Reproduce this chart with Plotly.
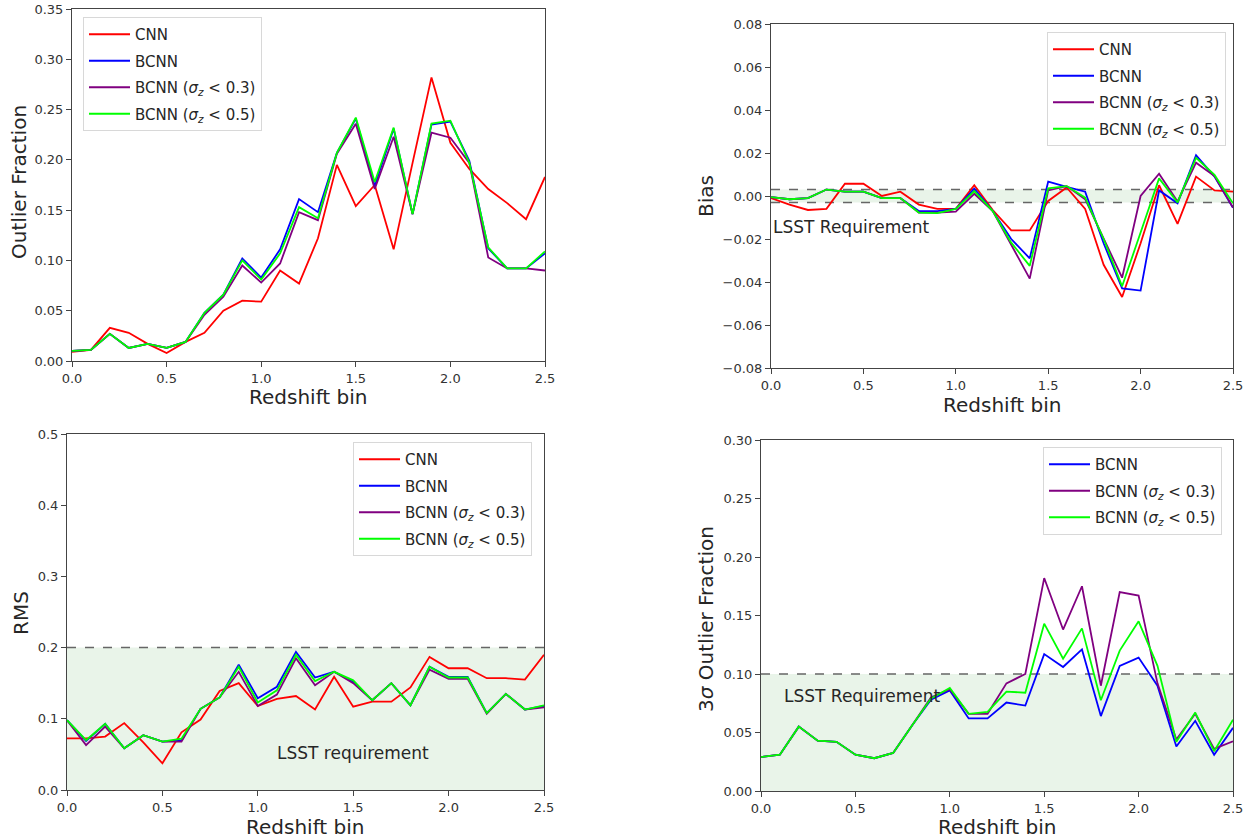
import plotly.graph_objects as go

W, H = 1251, 840

redshift = [0.0, 0.1, 0.2, 0.3, 0.4, 0.5, 0.6, 0.7, 0.8, 0.9, 1.0, 1.1, 1.2,
            1.3, 1.4, 1.5, 1.6, 1.7, 1.8, 1.9, 2.0, 2.1, 2.2, 2.3, 2.4, 2.5]

# Panel 1: Outlier fraction
of_cnn = [0.009, 0.011, 0.033, 0.028, 0.017, 0.008, 0.019, 0.028, 0.050, 0.060, 0.059, 0.090, 0.077,
          0.122, 0.195, 0.154, 0.175, 0.111, 0.197, 0.282, 0.217, 0.191, 0.171, 0.157, 0.141, 0.183]
of_bcnn = [0.010, 0.011, 0.027, 0.013, 0.017, 0.013, 0.019, 0.048, 0.066, 0.102, 0.083, 0.111, 0.161,
           0.148, 0.207, 0.241, 0.174, 0.231, 0.146, 0.235, 0.238, 0.199, 0.112, 0.092, 0.092, 0.107]
of_s03 = [0.010, 0.011, 0.027, 0.013, 0.017, 0.013, 0.019, 0.046, 0.064, 0.095, 0.078, 0.097, 0.148,
          0.140, 0.206, 0.236, 0.171, 0.223, 0.146, 0.227, 0.222, 0.197, 0.103, 0.092, 0.092, 0.090]
of_s05 = [0.010, 0.011, 0.027, 0.013, 0.017, 0.013, 0.019, 0.048, 0.066, 0.100, 0.081, 0.107, 0.153,
          0.142, 0.207, 0.242, 0.178, 0.232, 0.146, 0.236, 0.239, 0.197, 0.113, 0.092, 0.092, 0.109]

# Panel 2: Bias
b_cnn = [-0.001, -0.004, -0.0065, -0.006, 0.0057, 0.0057, 0.000, 0.002, -0.004, -0.006, -0.006, 0.005, -0.0065,
         -0.016, -0.016, -0.0023, 0.004, -0.006, -0.032, -0.047, -0.022, 0.005, -0.013, 0.009, 0.0026, 0.002]
b_bcnn = [-0.0005, -0.0015, -0.001, 0.003, 0.002, 0.002, -0.001, -0.001, -0.007, -0.007, -0.006, 0.0034, -0.007,
          -0.020, -0.029, 0.0067, 0.0043, 0.002, -0.022, -0.043, -0.044, 0.0026, -0.0034, 0.019, 0.009, -0.0055]
b_s03 = [-0.0005, -0.0015, -0.001, 0.003, 0.002, 0.002, -0.001, -0.001, -0.0077, -0.0077, -0.0073, 0.001, -0.007,
         -0.0225, -0.0384, 0.0026, 0.0046, -0.0015, -0.020, -0.038, 0.000, 0.0104, -0.0026, 0.0155, 0.0093, -0.0054]
b_s05 = [-0.0005, -0.0015, -0.001, 0.003, 0.002, 0.002, -0.001, -0.001, -0.0077, -0.008, -0.006, 0.0023, -0.007,
         -0.0217, -0.0325, 0.0036, 0.0046, -0.0008, -0.020, -0.042, -0.017, 0.0082, -0.003, 0.0178, 0.0098, -0.0034]

# Panel 3: RMS
r_cnn = [0.0726, 0.0726, 0.075, 0.094, 0.067, 0.0375, 0.081, 0.099, 0.139, 0.150, 0.118, 0.128, 0.132,
         0.113, 0.159, 0.117, 0.124, 0.124, 0.144, 0.187, 0.171, 0.171, 0.157, 0.157, 0.155, 0.190]
r_bcnn = [0.098, 0.069, 0.093, 0.0585, 0.077, 0.068, 0.070, 0.114, 0.130, 0.176, 0.129, 0.145, 0.194,
          0.158, 0.166, 0.152, 0.126, 0.150, 0.119, 0.173, 0.159, 0.159, 0.108, 0.135, 0.113, 0.118]
r_s03 = [0.098, 0.063, 0.089, 0.0585, 0.077, 0.068, 0.068, 0.114, 0.130, 0.166, 0.118, 0.134, 0.185,
         0.147, 0.166, 0.150, 0.126, 0.150, 0.119, 0.169, 0.156, 0.156, 0.107, 0.135, 0.113, 0.116]
r_s05 = [0.098, 0.070, 0.093, 0.0585, 0.077, 0.068, 0.072, 0.114, 0.130, 0.173, 0.123, 0.140, 0.190,
         0.153, 0.166, 0.154, 0.126, 0.150, 0.119, 0.173, 0.158, 0.158, 0.108, 0.135, 0.113, 0.119]

# Panel 4: 3-sigma outlier fraction
s_bcnn = [0.029, 0.031, 0.055, 0.043, 0.042, 0.031, 0.028, 0.0325, 0.056, 0.078, 0.086, 0.062, 0.062,
          0.0756, 0.073, 0.117, 0.106, 0.121, 0.064, 0.107, 0.114, 0.090, 0.038, 0.060, 0.031, 0.054]
s_s03 = [0.029, 0.031, 0.055, 0.043, 0.042, 0.031, 0.028, 0.0325, 0.056, 0.080, 0.087, 0.066, 0.066,
         0.092, 0.100, 0.182, 0.138, 0.175, 0.090, 0.170, 0.167, 0.092, 0.044, 0.066, 0.036, 0.0425]
s_s05 = [0.029, 0.031, 0.055, 0.043, 0.042, 0.031, 0.028, 0.0325, 0.056, 0.079, 0.088, 0.066, 0.0676,
         0.085, 0.084, 0.143, 0.113, 0.139, 0.0776, 0.120, 0.145, 0.107, 0.042, 0.067, 0.034, 0.061]

x_ticks = [0.0, 0.5, 1.0, 1.5, 2.0, 2.5]
x_ticktext = ["0.0", "0.5", "1.0", "1.5", "2.0", "2.5"]
y1_ticks = [0.0, 0.05, 0.10, 0.15, 0.20, 0.25, 0.30, 0.35]
y1_ticktext = ["0.00", "0.05", "0.10", "0.15", "0.20", "0.25", "0.30", "0.35"]
y2_ticks = [-0.08, -0.06, -0.04, -0.02, 0.0, 0.02, 0.04, 0.06, 0.08]
y2_ticktext = ["\u22120.08", "\u22120.06", "\u22120.04", "\u22120.02", "0.00", "0.02", "0.04", "0.06", "0.08"]
y3_ticks = [0.0, 0.1, 0.2, 0.3, 0.4, 0.5]
y3_ticktext = ["0.0", "0.1", "0.2", "0.3", "0.4", "0.5"]
y4_ticks = [0.0, 0.05, 0.10, 0.15, 0.20, 0.25, 0.30]
y4_ticktext = ["0.00", "0.05", "0.10", "0.15", "0.20", "0.25", "0.30"]

names = ["CNN", "BCNN",
         "BCNN (<i>σ</i><sub><i>z</i></sub> &lt; 0.3)",
         "BCNN (<i>σ</i><sub><i>z</i></sub> &lt; 0.5)"]
colors = ["#ff0000", "#0000ff", "#800080", "#00ff00"]

FONT = "DejaVu Sans"
TXT = "#262626"
LW = 1.8

fig = go.Figure()


def add_lines(series, xa, ya, leg, start=0):
    for k, s in enumerate(series):
        idx = start + k
        fig.add_trace(go.Scatter(x=redshift, y=s, mode="lines", name=names[idx],
                                 line=dict(color=colors[idx], width=LW),
                                 xaxis=xa, yaxis=ya, legend=leg,
                                 legendgroup=leg + "_" + str(idx)))


add_lines([of_cnn, of_bcnn, of_s03, of_s05], "x", "y", "legend")
add_lines([b_cnn, b_bcnn, b_s03, b_s05], "x2", "y2", "legend2")
add_lines([r_cnn, r_bcnn, r_s03, r_s05], "x3", "y3", "legend3")
add_lines([s_bcnn, s_s03, s_s05], "x4", "y4", "legend4", start=1)


def px_x(p):
    return p / W


def px_y(p):
    return 1 - p / H


boxes = {
    1: (72, 545, 9, 361),
    2: (771, 1233, 24, 368),
    3: (67, 544, 434, 790),
    4: (761, 1233, 440, 791),
}

axis_common = dict(showline=True, linecolor="#444", linewidth=1, mirror=True,
                   ticks="outside", ticklen=5, tickwidth=1, tickcolor="#444",
                   showgrid=False, zeroline=False, automargin=False,
                   tickfont=dict(family=FONT, size=13, color="#333"))

yspecs = {
    1: ([0, 0.35], y1_ticks, y1_ticktext),
    2: ([-0.08, 0.08], y2_ticks, y2_ticktext),
    3: ([0, 0.5], y3_ticks, y3_ticktext),
    4: ([0, 0.30], y4_ticks, y4_ticktext),
}

layout_axes = {}
for i in range(1, 5):
    l, r, t, b = boxes[i]
    sx = "" if i == 1 else str(i)
    layout_axes["xaxis" + sx] = dict(domain=[px_x(l), px_x(r)], anchor="y" + sx,
                                     range=[0, 2.5], tickvals=x_ticks, ticktext=x_ticktext,
                                     **axis_common)
    rng, tv, tt = yspecs[i]
    layout_axes["yaxis" + sx] = dict(domain=[px_y(b), px_y(t)], anchor="x" + sx,
                                     range=rng, tickvals=tv, ticktext=tt, **axis_common)

fig.update_layout(**layout_axes)

# Requirement regions
shade = "rgba(0,128,0,0.085)"
dash_col = "#666"
shapes = [
    dict(type="rect", xref="x2", yref="y2", x0=0, x1=2.5, y0=-0.003, y1=0.003,
         fillcolor=shade, line=dict(width=0), layer="below"),
    dict(type="line", xref="x2", yref="y2", x0=0, x1=2.5, y0=0.003, y1=0.003,
         line=dict(color=dash_col, width=1.5, dash="dash"), layer="below"),
    dict(type="line", xref="x2", yref="y2", x0=0, x1=2.5, y0=-0.003, y1=-0.003,
         line=dict(color=dash_col, width=1.5, dash="dash"), layer="below"),
    dict(type="rect", xref="x3", yref="y3", x0=0, x1=2.5, y0=0, y1=0.2,
         fillcolor=shade, line=dict(width=0), layer="below"),
    dict(type="line", xref="x3", yref="y3", x0=0, x1=2.5, y0=0.2, y1=0.2,
         line=dict(color=dash_col, width=1.5, dash="dash"), layer="below"),
    dict(type="rect", xref="x4", yref="y4", x0=0, x1=2.5, y0=0, y1=0.1,
         fillcolor=shade, line=dict(width=0), layer="below"),
    dict(type="line", xref="x4", yref="y4", x0=0, x1=2.5, y0=0.1, y1=0.1,
         line=dict(color=dash_col, width=1.5, dash="dash"), layer="below"),
]

ann = []
title_font = dict(family=FONT, size=20, color=TXT)
# y axis titles
for txt, cx, cy in [("Outlier Fraction", 19, 182), ("Bias", 706, 196),
                    ("RMS", 21, 613), ("3<i>σ</i> Outlier Fraction", 706, 619)]:
    ann.append(dict(text=txt, x=px_x(cx), y=px_y(cy), xref="paper", yref="paper",
                    showarrow=False, textangle=-90, xanchor="center", yanchor="middle",
                    font=title_font))
# x axis titles
for cx, cy in [(308, 397), (1002, 405), (305, 827), (997, 827)]:
    ann.append(dict(text="Redshift bin", x=px_x(cx), y=px_y(cy), xref="paper", yref="paper",
                    showarrow=False, xanchor="center", yanchor="middle", font=title_font))

req_font = dict(family=FONT, size=17, color=TXT)
ann.append(dict(text="LSST Requirement", x=0.0, y=-0.0145, xref="x2", yref="y2",
                showarrow=False, xanchor="left", yanchor="middle", font=req_font))
ann.append(dict(text="LSST requirement", x=1.5, y=0.0515, xref="x3", yref="y3",
                showarrow=False, xanchor="center", yanchor="middle", font=req_font))
ann.append(dict(text="LSST Requirement", x=0.11, y=0.081, xref="x4", yref="y4",
                showarrow=False, xanchor="left", yanchor="middle", font=req_font))

legend_common = dict(bgcolor="rgba(255,255,255,0.85)", bordercolor="#d8d8d8", borderwidth=1,
                     font=dict(family=FONT, size=15, color=TXT), itemwidth=41,
                     xanchor="left", yanchor="top", tracegroupgap=4)

fig.update_layout(
    width=W, height=H,
    margin=dict(l=0, r=0, t=0, b=0, pad=0, autoexpand=False),
    paper_bgcolor="white", plot_bgcolor="white",
    font=dict(family=FONT, color=TXT),
    shapes=shapes, annotations=ann,
    showlegend=True,
    legend=dict(x=px_x(83), y=px_y(17), **legend_common),
    legend2=dict(x=px_x(1047), y=px_y(32), **legend_common),
    legend3=dict(x=px_x(353), y=px_y(442), **legend_common),
    legend4=dict(x=px_x(1043), y=px_y(447), **legend_common),
)

fig.write_html("out.html")
